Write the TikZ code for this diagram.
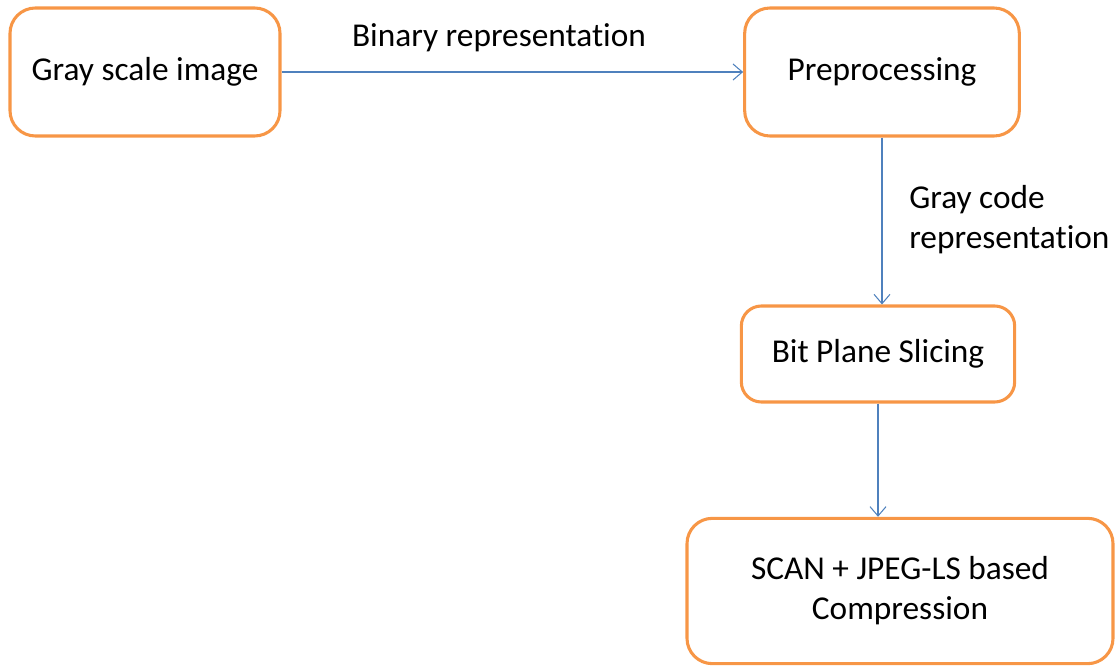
\documentclass[tikz,border=0pt]{standalone}
\usepackage{fontspec}
\setmainfont{Carlito}[Ligatures=NoCommon]
\usetikzlibrary{arrows.meta}
\definecolor{boxorange}{RGB}{247,150,70}
\definecolor{flowblue}{RGB}{79,129,189}
\begin{document}
\begin{tikzpicture}[x=0.75pt, y=0.75pt, font=\fontsize{25}{30}\selectfont,
	stage/.style={draw=boxorange, line width=2.3pt, rounded corners=19pt, fill=white, align=center, inner sep=0pt},
	flow/.style={draw=flowblue, line width=0.8pt, -{Straight Barb[length=7pt, width=12pt, line width=0.8pt]}}]
	\useasboundingbox (0,0) rectangle (1120,-666);
	% the four stages
	\node[stage, minimum width=202.5pt, minimum height=96pt] (gray) at (145,-72) {Gray scale image};
	\node[stage, minimum width=206pt, minimum height=96pt] (pre) at (882,-72) {Preprocessing};
	\node[stage, minimum width=205pt, minimum height=72pt, rounded corners=15pt] (bps) at (878,-354) {Bit Plane Slicing};
	\node[stage, minimum width=319.5pt, minimum height=109pt] (scan) at (900,-591) {SCAN + JPEG-LS based\\Compression};
	% connectors
	\draw[flow] (gray) -- (pre);
	\draw[flow] (pre.south) -- (pre.south |- bps.north);
	\draw[flow] (bps.south) -- (bps.south |- scan.north);
	\path
(499,-38) node (binlbl) {Binary representation}
(909,-220) node[anchor=west, align=left, inner sep=0pt] (graylbl) {Gray code\\representation};
\end{tikzpicture}
\end{document}
